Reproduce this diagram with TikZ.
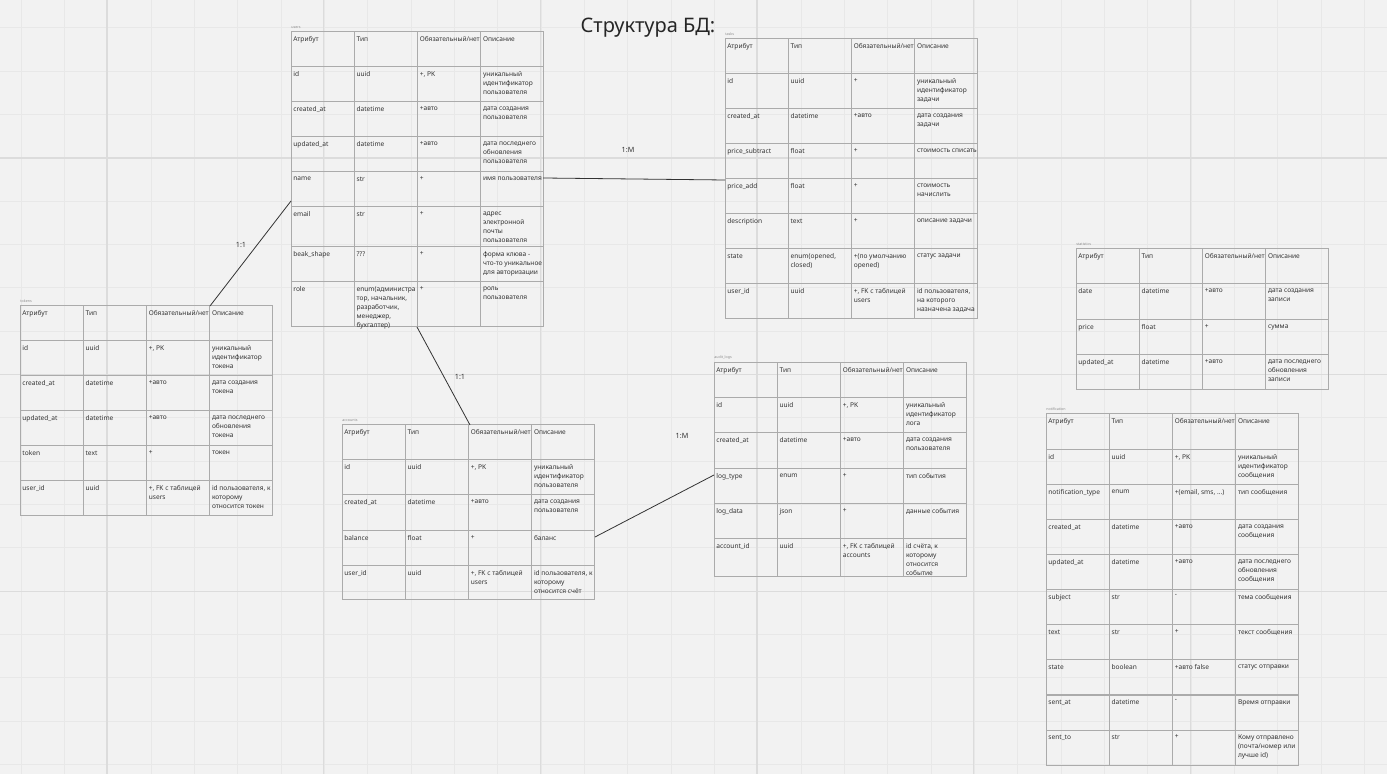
\documentclass[tikz,border=0pt]{standalone}
\usepackage{fontspec}
\setmainfont{Noto Sans}
\definecolor{bgc}{HTML}{F2F2F2}
\definecolor{gridminor}{HTML}{E8E8E8}
\definecolor{gridmajor}{HTML}{DCDCDC}
\definecolor{tline}{HTML}{ABABAB}
\definecolor{ttext}{HTML}{333333}
\tikzset{
 celltext/.style={anchor=north west, inner sep=0pt, align=left, font=\fontsize{3.3}{4.5}\selectfont, text=ttext},
 cellline/.style={draw=tline, line width=0.5pt},
 tbltitle/.style={anchor=south west, inner sep=0pt, font=\fontsize{1.8}{2}\selectfont, text=black!45},
 conn/.style={draw=ttext, line width=0.4pt},
 rel/.style={font=\fontsize{3.6}{4}\selectfont, text=ttext, inner sep=0pt},
}
\newcommand\tbsetup[4]{\def\tb{#1}\def\tx{#2}\def\tw{63.2}\node[tbltitle] (#1-title) at (#2,#3-3) {#4};}
\newcommand\tcell[5]{%
 \path[cellline] (#2,#3) rectangle ++(\tw,#4-#3);
 \node[celltext] (#1) at (#2+2,#3+4.5) {#5};}
\newcommand\trow[7]{%
 \tcell{\tb-#1-a}{\tx}{#2}{#3}{#4}%
 \tcell{\tb-#1-b}{\tx+\tw}{#2}{#3}{#5}%
 \tcell{\tb-#1-c}{\tx+2*\tw}{#2}{#3}{#6}%
 \tcell{\tb-#1-d}{\tx+3*\tw}{#2}{#3}{#7}}
\newcommand\thead[2]{\trow{head}{#1}{#2}{Атрибут}{Тип}{Обязательный/нет}{Описание}}
\begin{document}
\begin{tikzpicture}[x=0.5pt,y=-0.5pt]
\useasboundingbox (0,0) rectangle (1387,774);
\fill[bgc] (0,0) rectangle (1387,774);
\foreach \i in {0,...,31} \draw[gridminor, line width=0.5pt] (21+43.333*\i,0) -- ++(0,774);
\foreach \i in {0,...,17} \draw[gridminor, line width=0.5pt] (0,28+43.333*\i) -- ++(1387,0);
\foreach \i in {0,...,5} \draw[gridmajor, line width=0.6pt] (107+216.667*\i,0) -- ++(0,774);
\foreach \i in {0,...,2} \draw[gridmajor, line width=0.6pt] (0,158+216.667*\i) -- ++(1387,0);

\node[font=\fontsize{10}{12}\selectfont, text=black!85, inner sep=0pt] (title) at (648,28) {Структура БД:};

% users
\tbsetup{users}{291}{32}{users}
\thead{32}{67}
\trow{id}{67}{102}{id}{uuid}{+, PK}{уникальный\\идентификатор\\пользователя}
\trow{created}{102}{137}{created\_at}{datetime}{+авто}{дата создания\\пользователя}
\trow{updated}{137}{172}{updated\_at}{datetime}{+авто}{дата последнего\\обновления\\пользователя}
\trow{name}{172}{207}{name}{str}{+}{имя пользователя}
\trow{email}{207}{247}{email}{str}{+}{адрес\\электронной\\почты\\пользователя}
\trow{beak}{247}{282}{beak\_shape}{???}{+}{форма клюва -\\что-то уникальное\\для авторизации}
\trow{role}{282}{327}{role}{enum(администра\\тор, начальник,\\разработчик,\\менеджер,\\бухгалтер)}{+}{роль\\пользователя}

% tasks
\tbsetup{tasks}{725}{39}{tasks}
\thead{39}{74}
\trow{id}{74}{109}{id}{uuid}{+}{уникальный\\идентификатор\\задачи}
\trow{created}{109}{144}{created\_at}{datetime}{+авто}{дата создания\\задачи}
\trow{psub}{144}{179}{price\_subtract}{float}{+}{стоимость списать}
\trow{padd}{179}{214}{price\_add}{float}{+}{стоимость\\начислить}
\trow{descr}{214}{249}{description}{text}{+}{описание задачи}
\trow{state}{249}{284}{state}{enum(opened,\\closed)}{+(по умолчанию\\opened)}{статус задачи}
\trow{user}{284}{319}{user\_id}{uuid}{+, FK с таблицей\\users}{id пользователя,\\на которого\\назначена задача}

% tokens
\tbsetup{tokens}{20}{306}{tokens}
\thead{306}{341}
\trow{id}{341}{376}{id}{uuid}{+, PK}{уникальный\\идентификатор\\токена}
\trow{created}{376}{411}{created\_at}{datetime}{+авто}{дата создания\\токена}
\trow{updated}{411}{446}{updated\_at}{datetime}{+авто}{дата последнего\\обновления\\токена}
\trow{token}{446}{481}{token}{text}{+}{токен}
\trow{user}{481}{516}{user\_id}{uuid}{+, FK с таблицей\\users}{id пользователя, к\\которому\\относится токен}

% accounts
\tbsetup{accounts}{342}{425}{accounts}
\thead{425}{460}
\trow{id}{460}{495}{id}{uuid}{+, PK}{уникальный\\идентификатор\\пользователя}
\trow{created}{495}{531}{created\_at}{datetime}{+авто}{дата создания\\пользователя}
\trow{balance}{531}{566}{balance}{float}{+}{баланс}
\trow{user}{566}{600}{user\_id}{uuid}{+, FK с таблицей\\users}{id пользователя, к\\которому\\относится счёт}

% audit_logs
\tbsetup{audit}{714}{363}{audit\_logs}
\thead{363}{398}
\trow{id}{398}{433}{id}{uuid}{+, PK}{уникальный\\идентификатор\\лога}
\trow{created}{433}{469}{created\_at}{datetime}{+авто}{дата создания\\пользователя}
\trow{ltype}{469}{504}{log\_type}{enum}{+}{тип события}
\trow{ldata}{504}{539}{log\_data}{json}{+}{данные события}
\trow{acc}{539}{577}{account\_id}{uuid}{+, FK с таблицей\\accounts}{id счёта, к\\которому\\относится\\событие}

% statistics
\tbsetup{stats}{1076}{249}{statistics}
\thead{249}{284}
\trow{date}{284}{320}{date}{datetime}{+авто}{дата создания\\записи}
\trow{price}{320}{355}{price}{float}{+}{сумма}
\trow{updated}{355}{390}{updated\_at}{datetime}{+авто}{дата последнего\\обновления\\записи}

% notification
\tbsetup{notif}{1046}{414}{notification}
\thead{414}{450}
\trow{id}{450}{485}{id}{uuid}{+, PK}{уникальный\\идентификатор\\сообщения}
\trow{ntype}{485}{520}{notification\_type}{enum}{+(email, sms, ...)}{тип сообщения}
\trow{created}{520}{555}{created\_at}{datetime}{+авто}{дата создания\\сообщения}
\trow{updated}{555}{590}{updated\_at}{datetime}{+авто}{дата последнего\\обновления\\сообщения}
\trow{subject}{590}{625}{subject}{str}{-}{тема сообщения}
\trow{text}{625}{660}{text}{str}{+}{текст сообщения}
\trow{state}{660}{695}{state}{boolean}{+авто false}{статус отправки}
\trow{sentat}{695}{730}{sent\_at}{datetime}{-}{Время отправки}
\trow{sentto}{730}{765}{sent\_to}{str}{+}{Кому отправлено\\(почта/номер или\\лучше id)}

% connectors
\coordinate (users-l) at (291,201);
\coordinate (tokens-t) at (210,306);
\coordinate (users-b) at (417,327);
\coordinate (accounts-t) at (470,425);
\coordinate (users-r) at (543,178);
\coordinate (tasks-l) at (725,180);
\coordinate (accounts-r) at (595,537);
\coordinate (audit-l) at (714,475);
\draw[conn] (users-l) -- (tokens-t);
\draw[conn] (users-b) -- (accounts-t);
\draw[conn] (users-r) -- (tasks-l);
\draw[conn] (accounts-r) -- (audit-l);
\node[rel] (rel1) at (241,245) {1:1};
\node[rel] (rel2) at (460,377) {1:1};
\node[rel] (rel3) at (628,150) {1:M};
\node[rel] (rel4) at (682,436) {1:M};
\end{tikzpicture}
\end{document}
